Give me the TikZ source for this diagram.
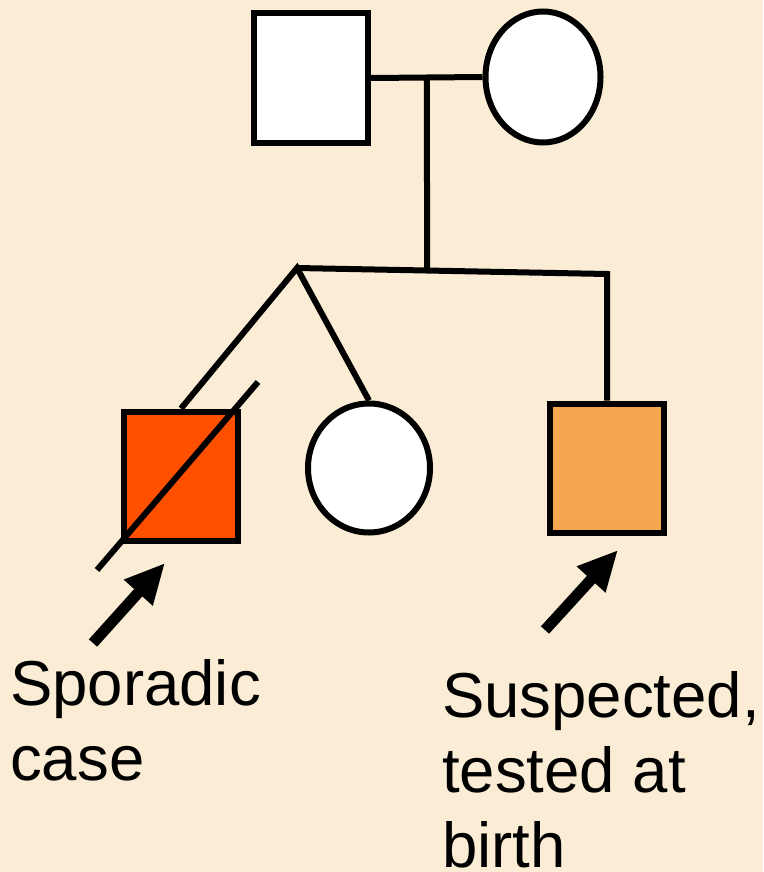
\documentclass[tikz,border=0pt]{standalone}
\usepackage{fontspec}
\setmainfont{Liberation Sans}
\usetikzlibrary{shapes.geometric,arrows.meta,calc}

\definecolor{bgcream}{RGB}{251,237,213}
\definecolor{affected}{RGB}{255,80,0}
\definecolor{suspect}{RGB}{246,166,80}

\tikzset{
  male/.style={draw,line width=6pt,fill=white,minimum width=114pt,minimum height=129pt,inner sep=0pt},
  female/.style={ellipse,draw,line width=6pt,fill=white,inner sep=0pt},
  link/.style={line width=6pt},
  pointer/.style={line width=11pt,-{Triangle[length=40pt,width=36pt]}},
  caption/.style={align=left,anchor=north west,inner sep=0pt,font=\fontsize{63.5}{75}\selectfont}
}

\begin{document}
\begin{tikzpicture}[x=1pt,y=-1pt]
\fill[bgcream] (0,0) rectangle (763,872);
\useasboundingbox (0,0) rectangle (763,872);

% Parents
\node[male] (F) at (311,78) {};
\node[female,minimum width=115pt,minimum height=131pt] (M) at (543,77) {};

% Children
\node[male,fill=affected] (C1) at (181,476) {};
\node[female,minimum width=122pt,minimum height=129pt] (C2) at (369,468) {};
\node[male,fill=suspect] (C3) at (607,468) {};

% Mating line and line of descent
\coordinate (mate) at ($(F.east)!0.5!(M.west)$);
\coordinate (apex) at (297,268);
\coordinate (sibR) at (607,274);
\coordinate (drop) at ($(apex)!0.42!(sibR)$);

\draw[link] (F.east) -- (M.west);
\draw[link] (mate) -- (drop);

% Sibship
\draw[link] (C1.north) -- (apex) -- (C2.north);
\draw[link] (apex) -- (sibR) -- (C3.north);

% Deceased
\coordinate (d1) at (97,570);
\coordinate (d2) at (258,382);
\draw[link] (d1) -- (d2);

% Arrows
\coordinate (a1) at (93,643);
\coordinate (t1) at (165,563);
\coordinate (a2) at (545,630);
\coordinate (t2) at (618,550);
\draw[pointer] (a1) -- (t1);
\draw[pointer] (a2) -- (t2);

% Labels
\node[caption] (L1) at (10,659) {Sporadic\\case};
\node[caption] (L2) at (442,671) {Suspected,\\tested at\\birth};

\end{tikzpicture}
\end{document}
